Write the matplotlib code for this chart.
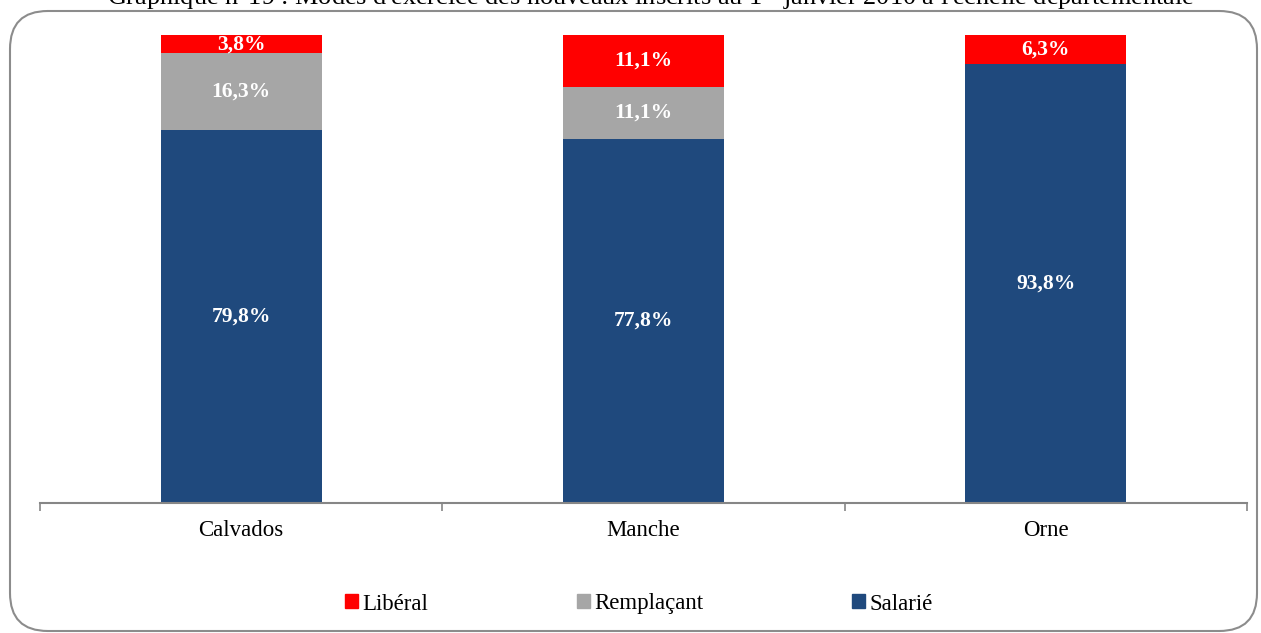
import matplotlib.pyplot as plt
import numpy as np
from matplotlib.patches import FancyBboxPatch, Patch

plt.rcParams["font.family"] = ["Liberation Serif", "DejaVu Serif"]
plt.rcParams["mathtext.fontset"] = "custom"
plt.rcParams["mathtext.rm"] = "Liberation Serif"

departements = ["Calvados", "Manche", "Orne"]
salarie = [79.8, 77.8, 93.8]
remplacant = [16.3, 11.1, 0.0]
liberal = [3.8, 11.1, 6.3]

salarie_labels = ["79,8%", "77,8%", "93,8%"]
remplacant_labels = ["16,3%", "11,1%", ""]
liberal_labels = ["3,8%", "11,1%", "6,3%"]

col_lib = "#FF0000"
col_rem = "#A6A6A6"
col_sal = "#1F497D"

fig = plt.figure(figsize=(12.61, 6.33), dpi=100)

# rounded frame around the chart
frame = FancyBboxPatch((10 / 1261, 2 / 633), 1247 / 1261, 620 / 633,
                       boxstyle="round,pad=0,rounding_size=0.03",
                       transform=fig.transFigure, facecolor="none",
                       edgecolor="#8C8C8C", linewidth=1.5, mutation_aspect=2.0)
fig.patches.append(frame)

fig.text(107 / 1261, 1 - 5 / 633,
         r"Graphique n°19 : Modes d'exercice des nouveaux inscrits au 1$^{\mathrm{er}}$ janvier 2010 à l'échelle départementale",
         fontsize=18.9, va="baseline", ha="left", color="black")

ax = fig.add_axes([40 / 1261, 130 / 633, 1207 / 1261, 468 / 633])
x = np.arange(len(departements))
w = 0.4
sal = np.array(salarie)
rem = np.array(remplacant)
lib = np.array(liberal)

ax.bar(x, sal, w, color=col_sal)
ax.bar(x, rem, w, bottom=sal, color=col_rem)
ax.bar(x, lib, w, bottom=sal + rem, color=col_lib)

lab = dict(ha="center", va="center", color="white", fontweight="bold", fontsize=15.5)
for i in range(len(x)):
    ax.text(x[i], sal[i] / 2, salarie_labels[i], **lab)
    if rem[i] > 0:
        ax.text(x[i], sal[i] + rem[i] / 2, remplacant_labels[i], **lab)
    ax.text(x[i], sal[i] + rem[i] + lib[i] / 2, liberal_labels[i], **lab)

ax.set_xlim(-0.5, 2.5)
ax.set_ylim(0, 100)
for side in ["top", "right", "left"]:
    ax.spines[side].set_visible(False)
ax.spines["bottom"].set_color("#868686")
ax.spines["bottom"].set_linewidth(1.5)
ax.set_yticks([])
ax.set_xticks(x)
ax.set_xticklabels(departements, fontsize=16.5)
ax.tick_params(axis="x", which="major", length=0, pad=12)
ax.set_xticks([-0.5, 0.5, 1.5, 2.5], minor=True)
ax.tick_params(axis="x", which="minor", length=6, width=1.2, color="#868686")

handles = [Patch(color=col_lib, label="Libéral"),
           Patch(color=col_rem, label="Remplaçant"),
           Patch(color=col_sal, label="Salarié")]
fig.legend(handles=handles, loc="center", bbox_to_anchor=(639 / 1261, 1 - 604 / 633),
           ncol=3, frameon=False, fontsize=16.5, handlelength=0.55, handleheight=0.55,
           handletextpad=0.2, columnspacing=6.5)

fig.savefig("out.png", dpi=100)
